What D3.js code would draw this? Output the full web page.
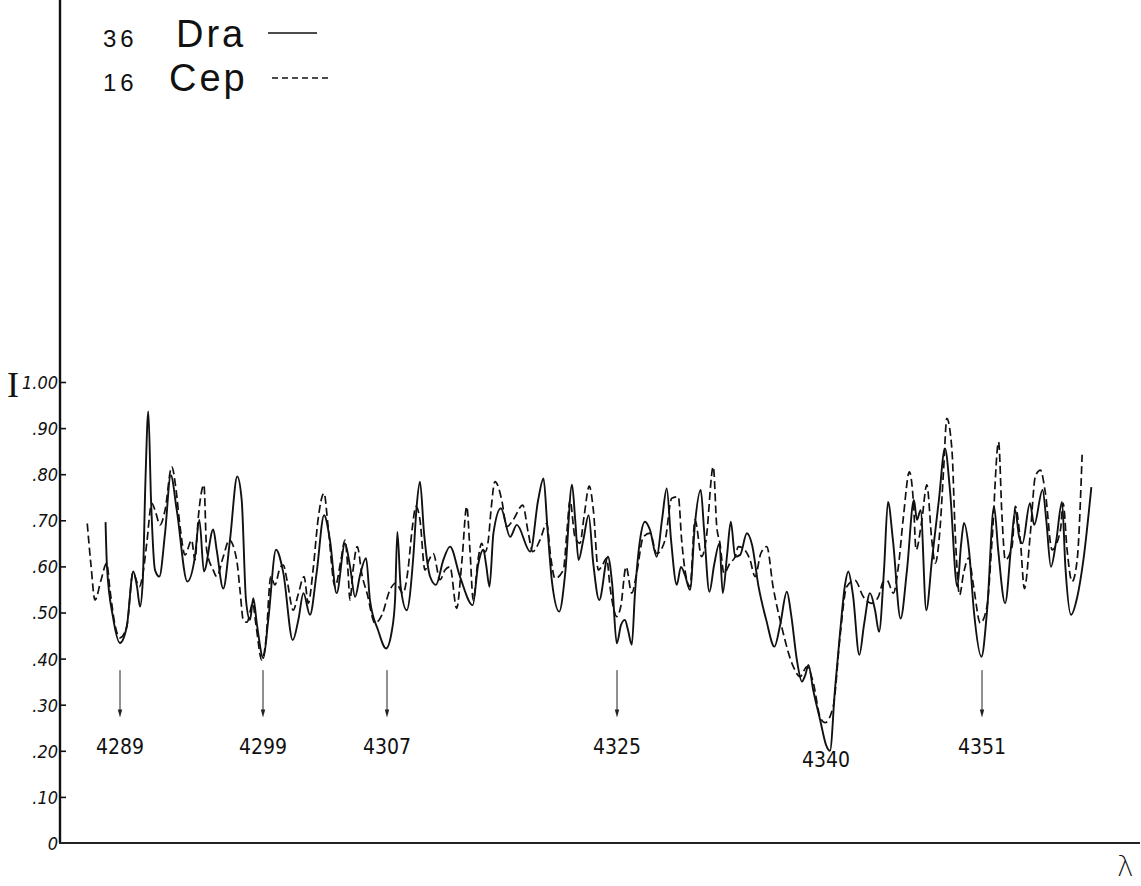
<!DOCTYPE html>
<html>
<head>
<meta charset="utf-8">
<script src="https://cdn.jsdelivr.net/npm/d3@7"></script>
<style>
  html, body { margin: 0; padding: 0; background: #fff; }
  svg { display: block; }
</style>
</head>
<body>
<svg id="chart" width="1141" height="886"></svg>
<script>
// Intensity axis ticks
const yTickValues = [0, 0.1, 0.2, 0.3, 0.4, 0.5, 0.6, 0.7, 0.8, 0.9, 1.0];
const yTickLabels = ["0", ".10", ".20", ".30", ".40", ".50", ".60", ".70", ".80", ".90", "1.00"];

// Identified lines (Å); the ones with an arrow, and H-gamma marked by its label only
const lineIds = [4289, 4299, 4307, 4325, 4340, 4351];
const arrowedLines = [4289, 4299, 4307, 4325, 4351];

// Series names
const starNames = [["36", "Dra"], ["16", "Cep"]];

// 36 Dra tracing: [wavelength Å, relative intensity]
const dra36 = [
  [4287.99,.696],[4288.09,.599],[4288.51,.490],[4289.00,.434],[4289.47,.469],[4289.93,.589],
  [4290.19,.556],[4290.40,.513],[4290.59,.567],[4290.78,.787],[4290.98,.936],[4291.17,.744],
  [4291.45,.592],[4291.75,.578],[4292.15,.672],[4292.55,.798],[4292.97,.722],[4293.71,.567],
  [4294.24,.621],[4294.55,.701],[4294.87,.589],[4295.52,.680],[4295.76,.636],[4296.22,.552],
  [4296.69,.657],[4297.20,.795],[4297.51,.744],[4297.81,.527],[4298.09,.484],[4298.32,.531],
  [4298.58,.473],[4299.02,.401],[4299.34,.484],[4299.84,.636],[4300.31,.586],[4300.92,.440],
  [4301.28,.484],[4301.61,.542],[4302.03,.495],[4302.46,.586],[4302.94,.711],[4303.32,.657],
  [4303.75,.542],[4304.29,.650],[4304.61,.601],[4304.94,.534],[4305.26,.581],[4305.65,.618],
  [4305.90,.527],[4306.42,.462],[4306.94,.422],[4307.39,.462],[4307.63,.527],[4307.81,.675],
  [4308.07,.556],[4308.54,.505],[4309.06,.621],[4309.32,.730],[4309.58,.784],[4309.90,.672],
  [4310.37,.578],[4310.83,.560],[4311.41,.614],[4311.93,.643],[4312.71,.578],[4313.71,.516],
  [4314.13,.603],[4314.54,.636],[4314.76,.603],[4315.02,.556],[4315.33,.672],[4315.91,.726],
  [4316.64,.664],[4317.16,.690],[4318.21,.632],[4318.83,.744],[4319.25,.791],[4319.54,.690],
  [4319.91,.567],[4320.48,.502],[4320.95,.586],[4321.48,.777],[4321.73,.701],[4321.99,.614],
  [4322.36,.657],[4322.78,.711],[4323.14,.607],[4323.61,.527],[4324.29,.621],[4324.63,.560],
  [4324.98,.433],[4325.29,.473],[4325.57,.484],[4325.79,.462],[4326.06,.430],[4326.29,.542],
  [4326.65,.657],[4327.01,.697],[4327.37,.679],[4327.85,.621],[4328.23,.701],[4328.57,.769],
  [4328.88,.657],[4329.29,.560],[4329.59,.599],[4329.88,.581],[4330.24,.549],[4330.60,.694],
  [4331.01,.766],[4331.25,.679],[4331.63,.545],[4331.97,.603],[4332.35,.650],[4332.59,.542],
  [4332.90,.625],[4333.17,.697],[4333.48,.621],[4333.84,.625],[4334.32,.672],[4334.70,.646],
  [4335.16,.556],[4335.71,.484],[4336.30,.426],[4336.71,.473],[4337.19,.545],[4337.50,.495],
  [4337.91,.397],[4338.27,.350],[4338.51,.364],[4338.74,.386],[4339.08,.332],[4339.58,.267],
  [4340.00,.213],[4340.28,.200],[4340.63,.332],[4340.99,.456],[4341.34,.560],[4341.57,.589],
  [4341.90,.538],[4342.35,.408],[4342.68,.473],[4343.10,.542],[4343.46,.505],[4343.74,.458],
  [4344.09,.592],[4344.37,.740],[4344.72,.657],[4345.26,.487],[4345.71,.592],[4346.20,.744],
  [4346.41,.701],[4346.67,.722],[4347.07,.505],[4347.47,.614],[4347.96,.744],[4348.39,.856],
  [4348.74,.766],[4349.26,.556],[4349.52,.646],[4349.73,.694],[4350.08,.636],[4350.44,.499],
  [4350.96,.404],[4351.36,.505],[4351.85,.730],[4352.14,.636],[4352.63,.520],[4353.06,.646],
  [4353.34,.722],[4353.62,.664],[4353.85,.650],[4354.38,.737],[4354.68,.690],[4355.27,.766],
  [4355.53,.701],[4355.86,.599],[4356.24,.657],[4356.64,.740],[4356.88,.599],[4357.28,.495],
  [4357.72,.534],[4358.15,.614],[4358.71,.772]
];

// 16 Cep tracing: [wavelength Å, relative intensity]
const cep16 = [
  [4286.71,.693],[4286.97,.603],[4287.25,.527],[4287.67,.570],[4288.07,.607],[4288.30,.549],
  [4288.65,.473],[4289.00,.445],[4289.47,.469],[4289.91,.586],[4290.35,.556],[4290.61,.586],
  [4290.87,.650],[4291.22,.737],[4291.45,.722],[4291.80,.690],[4292.15,.722],[4292.62,.816],
  [4292.92,.766],[4293.20,.686],[4293.55,.625],[4294.01,.657],[4294.24,.614],[4294.48,.708],
  [4294.87,.777],[4295.06,.636],[4295.52,.592],[4295.76,.578],[4296.22,.621],[4296.64,.657],
  [4297.16,.614],[4297.39,.549],[4297.62,.484],[4297.88,.479],[4298.28,.520],[4298.51,.473],
  [4298.91,.397],[4299.19,.440],[4299.50,.578],[4299.77,.560],[4300.10,.597],[4300.31,.603],
  [4300.55,.570],[4300.95,.505],[4301.26,.538],[4301.65,.578],[4301.92,.520],[4302.23,.592],
  [4302.55,.701],[4302.94,.759],[4303.19,.690],[4303.65,.556],[4304.03,.614],[4304.29,.657],
  [4304.48,.592],[4304.61,.527],[4304.81,.592],[4305.08,.643],[4305.39,.581],[4305.71,.542],
  [4306.23,.477],[4306.68,.495],[4307.23,.549],[4307.70,.564],[4308.25,.542],[4308.64,.592],
  [4308.96,.679],[4309.27,.730],[4309.58,.701],[4309.97,.592],[4310.29,.614],[4310.62,.628],
  [4311.15,.571],[4311.54,.592],[4311.93,.599],[4312.45,.509],[4312.87,.614],[4313.24,.730],
  [4313.49,.636],[4313.75,.527],[4314.12,.614],[4314.41,.650],[4314.67,.631],[4314.93,.657],
  [4315.14,.722],[4315.45,.784],[4315.98,.744],[4316.37,.686],[4316.88,.701],[4317.62,.733],
  [4318.06,.672],[4318.40,.632],[4318.97,.657],[4319.50,.693],[4319.81,.621],[4320.15,.574],
  [4320.80,.592],[4321.09,.679],[4321.32,.744],[4321.71,.664],[4322.10,.650],[4322.42,.708],
  [4322.83,.774],[4323.15,.722],[4323.54,.592],[4323.83,.601],[4324.19,.618],[4324.45,.556],
  [4324.77,.505],[4324.98,.491],[4325.27,.513],[4325.65,.599],[4326.06,.542],[4326.41,.585],
  [4326.89,.664],[4327.37,.672],[4327.85,.628],[4328.45,.657],[4328.93,.748],[4329.40,.751],
  [4329.64,.657],[4329.88,.592],[4330.24,.556],[4330.60,.701],[4331.08,.621],[4331.39,.657],
  [4331.91,.816],[4332.16,.686],[4332.39,.650],[4332.68,.585],[4333.11,.607],[4333.48,.621],
  [4333.71,.643],[4334.07,.639],[4334.55,.614],[4334.91,.578],[4335.32,.628],[4335.75,.643],
  [4336.20,.556],[4336.82,.469],[4337.66,.382],[4338.14,.361],[4338.62,.382],[4339.10,.346],
  [4339.57,.274],[4339.93,.261],[4340.51,.296],[4340.99,.448],[4341.46,.556],[4342.04,.570],
  [4342.63,.534],[4343.22,.520],[4343.69,.534],[4344.04,.567],[4344.30,.570],[4344.75,.542],
  [4345.10,.599],[4345.46,.708],[4345.88,.805],[4346.17,.737],[4346.35,.636],[4346.76,.701],
  [4347.11,.777],[4347.46,.657],[4347.70,.607],[4348.05,.686],[4348.29,.809],[4348.52,.921],
  [4348.88,.853],[4349.11,.672],[4349.42,.538],[4349.70,.585],[4350.06,.618],[4350.41,.556],
  [4350.88,.477],[4351.35,.513],[4351.71,.657],[4352.17,.870],[4352.41,.708],[4352.64,.614],
  [4353.12,.643],[4353.35,.730],[4353.70,.657],[4353.99,.552],[4354.41,.672],[4354.76,.795],
  [4355.12,.809],[4355.47,.759],[4355.94,.636],[4356.53,.679],[4356.72,.737],[4357.00,.636],
  [4357.35,.567],[4357.71,.614],[4358.06,.842]
];

const svg = d3.select("#chart");

// Wavelength scale: the tracing is not perfectly linear in wavelength, so the
// identified lines anchor a piecewise-linear mapping.
const x = d3.scaleLinear()
  .domain(lineIds)
  .range([120, 263, 387, 617, 826, 982]);

const y = d3.scaleLinear().domain([0, 1]).range([843, 382]);

const inkFont = "'Liberation Sans Narrow', 'DejaVu Sans Condensed', sans-serif";
const legendFont = "'Liberation Sans', Arial, sans-serif";

// Frame: intensity axis rising to the top edge, wavelength axis to the right edge
svg.append("line")
  .attr("x1", 60).attr("x2", 60).attr("y1", 0).attr("y2", y(0))
  .attr("stroke", "#111").attr("stroke-width", 2.4);
svg.append("line")
  .attr("x1", 59).attr("x2", 1140).attr("y1", y(0)).attr("y2", y(0))
  .attr("stroke", "#222").attr("stroke-width", 2);

// Intensity ticks point inward, labels sit against the axis
const yAxis = d3.axisLeft(y)
  .tickValues(yTickValues)
  .tickFormat((d, i) => yTickLabels[i])
  .tickSizeInner(-6)
  .tickSizeOuter(0)
  .tickPadding(2);

const gy = svg.append("g").attr("transform", "translate(60,0)").call(yAxis);
gy.select(".domain").remove();
gy.selectAll(".tick line").attr("stroke", "#111").attr("stroke-width", 1.6);
gy.selectAll(".tick text")
  .attr("fill", "#111")
  .style("font-family", inkFont)
  .style("font-size", "18px")
  .style("font-style", "italic")
  .attr("dy", "0.36em");
gy.selectAll(".tick").filter(d => d === 0).select("line").remove();

// Axis symbols
svg.append("text")
  .attr("x", 7).attr("y", 397)
  .style("font-family", "'Liberation Serif', serif")
  .style("font-size", "36px")
  .attr("fill", "#111")
  .text("I");
svg.append("text")
  .attr("x", 1117).attr("y", 876)
  .style("font-family", "'DejaVu Sans', sans-serif")
  .style("font-weight", 200)
  .style("font-size", "28px")
  .attr("fill", "#111")
  .text("λ");

// Spectra
const line = d3.line()
  .x(d => x(d[0]))
  .y(d => y(d[1]))
  .curve(d3.curveMonotoneX);

svg.append("path")
  .datum(cep16)
  .attr("d", line)
  .attr("fill", "none")
  .attr("stroke", "#111")
  .attr("stroke-width", 1.7)
  .attr("stroke-dasharray", "8,4");

svg.append("path")
  .datum(dra36)
  .attr("d", line)
  .attr("fill", "none")
  .attr("stroke", "#111")
  .attr("stroke-width", 1.9)
  .attr("stroke-linejoin", "round");

// Line identification arrows
const arrowTop = y(0.375), arrowTip = y(0.272);
const arrows = svg.append("g");
arrowedLines.forEach(l => {
  const ax = x(l);
  arrows.append("line")
    .attr("x1", ax).attr("x2", ax)
    .attr("y1", arrowTop).attr("y2", arrowTip - 4)
    .attr("stroke", "#222").attr("stroke-width", 1);
  arrows.append("path")
    .attr("d", `M${ax - 2.2},${arrowTip - 8} L${ax + 2.2},${arrowTip - 8} L${ax},${arrowTip} Z`)
    .attr("fill", "#222");
});

// Wavelength labels
svg.append("g").selectAll("text")
  .data(lineIds)
  .join("text")
  .attr("x", d => x(d))
  .attr("y", d => arrowedLines.includes(d) ? 754 : 767)
  .attr("text-anchor", "middle")
  .style("font-family", inkFont)
  .style("font-size", "21px")
  .attr("fill", "#111")
  .text(d => d);

// Legend
const legend = svg.append("g");
starNames.forEach((s, i) => {
  const base = i === 0 ? 47 : 91;
  legend.append("text")
    .attr("x", 103).attr("y", base)
    .style("font-family", legendFont)
    .style("font-size", "24px")
    .style("letter-spacing", "4px")
    .attr("fill", "#111")
    .text(s[0]);
  legend.append("text")
    .attr("x", i === 0 ? 176 : 169).attr("y", base)
    .style("font-family", legendFont)
    .style("font-size", "38px")
    .style("letter-spacing", "3px")
    .attr("fill", "#111")
    .text(s[1]);
  legend.append("line")
    .attr("x1", i === 0 ? 268 : 272).attr("x2", i === 0 ? 317 : 328)
    .attr("y1", i === 0 ? 33 : 78).attr("y2", i === 0 ? 33 : 78)
    .attr("stroke", "#111").attr("stroke-width", 1.5)
    .attr("stroke-dasharray", i === 0 ? null : "6,4");
});
</script>
</body>
</html>
